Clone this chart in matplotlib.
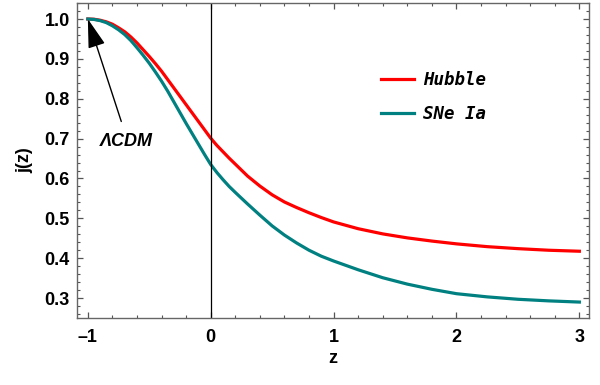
import numpy as np
import matplotlib
matplotlib.use('Agg')
import matplotlib.pyplot as plt
from matplotlib.ticker import MultipleLocator

# valeurs
z_hubble = [-1.0, -0.95, -0.9, -0.85, -0.8, -0.75, -0.7, -0.65, -0.6, -0.55, -0.5, -0.45, -0.4,
            -0.35, -0.3, -0.25, -0.2, -0.15, -0.1, -0.05, 0.0, 0.05, 0.1, 0.15, 0.2, 0.3, 0.4, 0.5,
            0.6, 0.7, 0.8, 0.9, 1.0, 1.2, 1.4, 1.6, 1.8, 2.0, 2.25, 2.5, 2.75, 3.0]
j_hubble = [1.000, 0.9995, 0.997, 0.993, 0.987, 0.978, 0.968, 0.955, 0.940, 0.923, 0.906, 0.888, 0.869,
            0.848, 0.827, 0.806, 0.785, 0.764, 0.743, 0.722, 0.701, 0.683, 0.667, 0.651, 0.636, 0.606,
            0.581, 0.559, 0.541, 0.527, 0.514, 0.502, 0.491, 0.474, 0.461, 0.451, 0.443, 0.436, 0.429,
            0.424, 0.420, 0.4175]

z_sne = z_hubble
j_sne = [1.000, 0.999, 0.996, 0.991, 0.983, 0.973, 0.961, 0.946, 0.928, 0.909, 0.889, 0.867, 0.844,
         0.819, 0.792, 0.765, 0.738, 0.712, 0.686, 0.660, 0.635, 0.615, 0.597, 0.580, 0.565, 0.536,
         0.508, 0.481, 0.458, 0.438, 0.420, 0.405, 0.393, 0.371, 0.351, 0.335, 0.322, 0.311, 0.303,
         0.297, 0.293, 0.290]

labels = ['Hubble', 'SNe Ia']
colors = ['#ff0000', '#008080']

fig = plt.figure(figsize=(6, 3.85), dpi=100)
ax = fig.add_axes([0.128, 0.174, 0.854, 0.818])

ax.plot(z_hubble, j_hubble, color=colors[0], lw=2.3, label=labels[0])
ax.plot(z_sne, j_sne, color=colors[1], lw=2.3, label=labels[1])
ax.axvline(0, color='black', lw=0.9)

ax.set_xlim(-1.09, 3.08)
ax.set_ylim(0.25, 1.04)

ax.xaxis.set_minor_locator(MultipleLocator(0.2))
ax.yaxis.set_minor_locator(MultipleLocator(0.02))
ax.set_xticks([-1, 0, 1, 2, 3])
ax.set_xticklabels(['\u20131', '0', '1', '2', '3'])
ax.set_yticks([0.3, 0.4, 0.5, 0.6, 0.7, 0.8, 0.9, 1.0])
ax.set_yticklabels(['0.3', '0.4', '0.5', '0.6', '0.7', '0.8', '0.9', '1.0'])

for lab in ax.get_xticklabels() + ax.get_yticklabels():
    lab.set_fontfamily('Liberation Sans')
    lab.set_fontweight('bold')
    lab.set_fontsize(13)

ax.tick_params(which='both', direction='in', top=True, right=True, color='#555555')
ax.tick_params(which='major', length=4.5, width=0.9)
ax.tick_params(which='minor', length=2.3, width=0.8)
ax.tick_params(axis='x', which='major', pad=8)
ax.tick_params(axis='y', which='major', pad=5)
for s in ax.spines.values():
    s.set_color('#666666')
    s.set_linewidth(1.0)

ax.set_xlabel('z', fontfamily='Liberation Sans', fontweight='bold', fontsize=13, labelpad=3)
ax.set_ylabel('j(z)', fontfamily='Liberation Sans', fontweight='bold', fontsize=13, labelpad=8)

# fleche LCDM
ax.annotate('', xy=(-1.0, 1.0), xytext=(-0.728, 0.743),
            arrowprops=dict(arrowstyle='-|>,head_length=0.4,head_width=0.12', color='black',
                            lw=1.0, mutation_scale=45, shrinkA=0, shrinkB=0))
ax.text(-0.687, 0.6925, '\u039bCDM', fontfamily='Liberation Sans', fontweight='bold',
        fontstyle='italic', fontsize=13, ha='center', va='center')

leg = ax.legend(loc='upper left', bbox_to_anchor=(0.564, 0.835), frameon=False,
                prop={'family': 'DejaVu Sans Mono', 'style': 'italic', 'weight': 'bold', 'size': 12.5},
                handlelength=1.85, handletextpad=0.55, labelspacing=0.92)

fig.savefig('out.png', dpi=100)
